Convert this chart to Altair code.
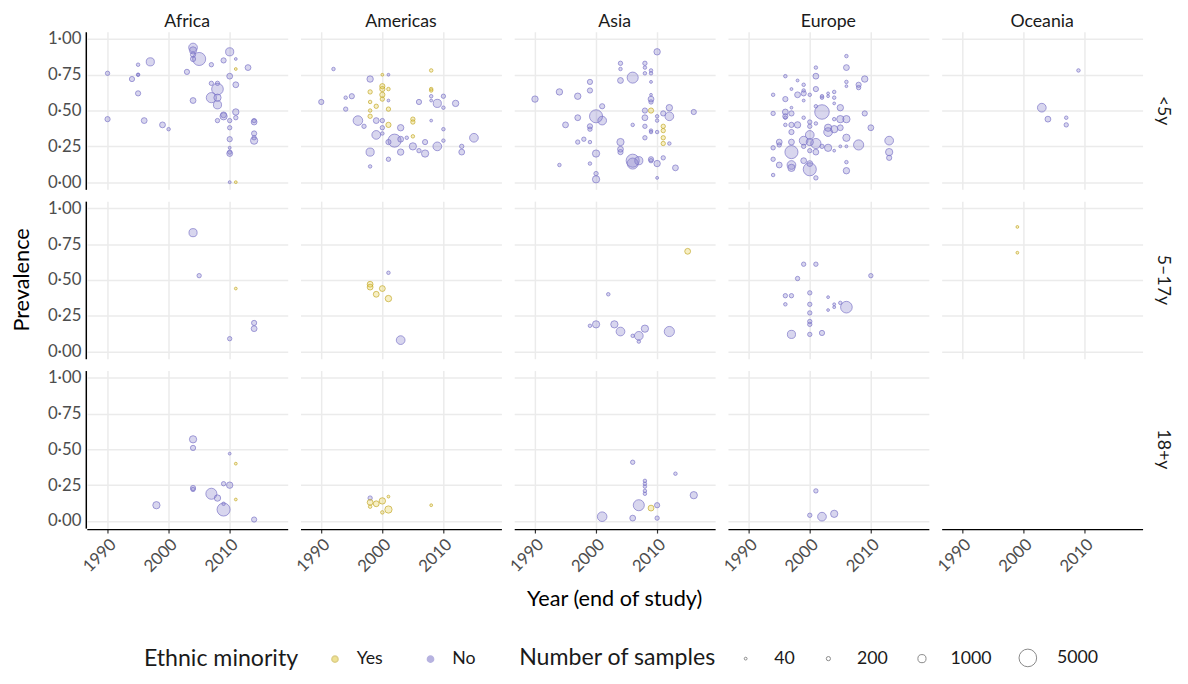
import altair as alt
import pandas as pd

REGIONS = ["Africa", "Americas", "Asia", "Europe", "Oceania"]
AGES = ["<5y", "5–17y", "18+y"]
Y, N = "Yes", "No"

# (year, prevalence, number of samples, ethnic minority)
africa_u5 = [
    (2004, 0.94, 1160, N), (2004, 0.92, 780, N), (2004, 0.89, 360, N), (2004, 0.86, 360, N),
    (2005, 0.86, 2720, N), (2010, 0.91, 1000, N), (2009, 0.85, 360, N), (2011, 0.86, 40, N),
    (2007, 0.82, 225, N), (1997, 0.84, 1000, N), (1995, 0.82, 113, N), (1990, 0.76, 225, N),
    (1995, 0.75, 113, N), (1995, 0.75, 50, N), (1994, 0.72, 360, N), (2003, 0.77, 360, N),
    (2011, 0.79, 40, Y), (2013, 0.80, 470, N), (2010, 0.74, 470, N), (2011, 0.68, 470, N),
    (2007, 0.69, 225, N), (2008, 0.69, 225, N), (2008, 0.65, 2140, N), (2007, 0.59, 1610, N),
    (2008, 0.59, 780, N), (2008, 0.54, 1000, N), (2004, 0.57, 470, N), (1995, 0.62, 360, N),
    (1990, 0.44, 360, N), (1996, 0.43, 470, N), (1999, 0.40, 470, N), (2000, 0.37, 113, N),
    (2009, 0.46, 780, N), (2009, 0.47, 470, N), (2008, 0.43, 225, N), (2010, 0.43, 225, N),
    (2011, 0.49, 585, N), (2011, 0.45, 225, N), (2014, 0.42, 470, N), (2014, 0.43, 225, N),
    (2014, 0.34, 360, N), (2014, 0.31, 225, N), (2014, 0.29, 780, N), (2010, 0.38, 225, N),
    (2010, 0.30, 360, N), (2010, 0.24, 50, N), (2010, 0.20, 470, N), (2010, 0.21, 225, N),
    (2010, 0.00, 50, N), (2011, 0.00, 40, Y),
]
americas_u5 = [
    (1992, 0.79, 113, N), (1990, 0.56, 360, N), (1994, 0.51, 225, N), (1994, 0.59, 113, N),
    (1995, 0.60, 360, N), (1998, 0.72, 585, N), (1998, 0.63, 225, Y), (1998, 0.56, 113, Y),
    (1998, 0.50, 113, Y), (1998, 0.46, 225, Y), (1999, 0.53, 225, Y), (2000, 0.75, 40, Y),
    (2000, 0.67, 360, Y), (2000, 0.65, 360, Y), (2000, 0.61, 360, Y), (2000, 0.58, 225, Y),
    (2001, 0.75, 40, N), (2001, 0.65, 113, Y), (2001, 0.57, 40, N), (2001, 0.51, 225, Y),
    (2001, 0.40, 360, Y), (1996, 0.43, 1420, N), (1997, 0.39, 225, N), (1999, 0.43, 470, N),
    (2000, 0.43, 225, N), (2000, 0.38, 225, N), (2000, 0.34, 113, N), (1999, 0.33, 1160, N),
    (2001, 0.28, 360, N), (2002, 0.29, 2720, N), (2003, 0.38, 585, N), (2003, 0.30, 470, N),
    (2004, 0.31, 113, N), (2005, 0.44, 225, Y), (2005, 0.42, 225, Y), (2005, 0.32, 113, Y),
    (2005, 0.25, 780, N), (2003, 0.21, 585, N), (2006, 0.22, 225, N), (2007, 0.28, 360, N),
    (2007, 0.20, 780, N), (1998, 0.21, 1000, N), (1998, 0.11, 113, N), (2001, 0.16, 225, N),
    (2006, 0.56, 360, N), (2008, 0.78, 113, Y), (2008, 0.65, 113, Y), (2008, 0.64, 113, Y),
    (2008, 0.60, 113, N), (2008, 0.57, 50, N), (2008, 0.43, 40, N), (2009, 0.55, 1000, N),
    (2010, 0.60, 225, N), (2010, 0.52, 113, N), (2010, 0.37, 113, N), (2010, 0.29, 113, N),
    (2009, 0.25, 1160, N), (2012, 0.55, 585, N), (2013, 0.25, 225, N), (2013, 0.21, 470, N),
    (2015, 0.31, 1160, N),
]
asia_u5 = [
    (1990, 0.58, 585, N), (1994, 0.63, 585, N), (1997, 0.60, 585, N), (1999, 0.70, 360, N),
    (1999, 0.64, 360, N), (2001, 0.53, 360, N), (2000, 0.46, 2720, N), (2001, 0.43, 1160, N),
    (1997, 0.45, 470, N), (1995, 0.40, 470, N), (1999, 0.39, 360, N), (1999, 0.37, 225, N),
    (1997, 0.28, 225, N), (1998, 0.30, 225, N), (1999, 0.28, 113, N), (2000, 0.20, 780, N),
    (1999, 0.13, 113, N), (1994, 0.12, 113, N), (2000, 0.06, 225, N), (2000, 0.02, 780, N),
    (2004, 0.83, 225, N), (2004, 0.79, 113, N), (2004, 0.71, 470, N), (2006, 0.73, 1915, N),
    (2008, 0.83, 225, N), (2008, 0.80, 113, N), (2008, 0.76, 113, N), (2009, 0.78, 113, N),
    (2009, 0.76, 113, N), (2009, 0.70, 50, N), (2010, 0.91, 585, N), (2009, 0.61, 40, N),
    (2009, 0.58, 470, N), (2009, 0.56, 225, N), (2008, 0.50, 360, N), (2009, 0.50, 360, Y),
    (2008, 0.45, 470, N), (2010, 0.46, 113, N), (2010, 0.43, 113, N), (2011, 0.48, 360, N),
    (2012, 0.52, 585, N), (2012, 0.46, 1160, N), (2016, 0.49, 360, N), (2006, 0.40, 113, N),
    (2008, 0.39, 225, N), (2009, 0.36, 113, N), (2009, 0.35, 113, N), (2010, 0.35, 113, N),
    (2011, 0.39, 225, Y), (2011, 0.36, 225, Y), (2011, 0.31, 225, Y), (2011, 0.27, 225, Y),
    (2012, 0.27, 113, N), (2008, 0.31, 225, N), (2004, 0.28, 780, N), (2004, 0.23, 470, N),
    (2004, 0.21, 360, N), (2006, 0.15, 2720, N), (2006, 0.13, 1915, N), (2007, 0.15, 1000, N),
    (2009, 0.16, 360, N), (2009, 0.15, 225, N), (2011, 0.17, 225, N), (2010, 0.13, 585, N),
    (2013, 0.10, 470, N), (2010, 0.03, 50, N),
]
europe_u5 = [
    (2006, 0.88, 113, N), (2006, 0.80, 470, N), (2006, 0.70, 113, N), (2006, 0.67, 40, N),
    (2001, 0.80, 113, N), (2001, 0.74, 470, N), (2001, 0.65, 360, N), (1996, 0.74, 113, N),
    (1998, 0.71, 50, N), (1999, 0.68, 113, N), (1997, 0.65, 50, N), (1999, 0.64, 113, N),
    (1998, 0.61, 470, N), (1999, 0.62, 360, N), (2000, 0.61, 113, N), (1999, 0.57, 50, N),
    (1994, 0.61, 113, N), (1996, 0.58, 360, N), (2002, 0.60, 113, N), (2002, 0.59, 113, N),
    (2003, 0.62, 40, N), (2003, 0.60, 40, N), (2004, 0.63, 113, N), (2004, 0.59, 113, N),
    (2009, 0.72, 585, N), (2008, 0.68, 360, N), (2008, 0.66, 225, N), (2002, 0.49, 3380, N),
    (2001, 0.53, 113, N), (2004, 0.55, 40, N), (2005, 0.52, 585, N), (1997, 0.52, 40, N),
    (1996, 0.49, 470, N), (1996, 0.46, 360, N), (1996, 0.45, 113, N), (1994, 0.48, 225, N),
    (1997, 0.48, 360, N), (1999, 0.45, 113, N), (2005, 0.44, 780, N), (2006, 0.44, 780, N),
    (2009, 0.48, 360, N), (2004, 0.44, 113, N), (1996, 0.40, 113, N), (1997, 0.40, 360, N),
    (1998, 0.40, 585, N), (2000, 0.42, 225, N), (2001, 0.41, 113, N), (2000, 0.39, 225, N),
    (1997, 0.35, 360, N), (2003, 0.38, 780, N), (2004, 0.37, 780, N), (2005, 0.38, 470, N),
    (2003, 0.35, 1160, N), (2000, 0.33, 1160, N), (2010, 0.38, 470, N), (1999, 0.29, 1160, N),
    (2000, 0.28, 780, N), (2001, 0.27, 1610, N), (1995, 0.28, 470, N), (1997, 0.28, 470, N),
    (2002, 0.25, 225, N), (2006, 0.31, 780, N), (1995, 0.26, 225, N), (1994, 0.24, 225, N),
    (1997, 0.21, 2720, N), (1999, 0.25, 225, N), (2000, 0.22, 225, N), (2001, 0.21, 470, N),
    (2003, 0.24, 780, N), (2004, 0.22, 40, N), (2005, 0.25, 50, N), (2006, 0.25, 50, N),
    (2008, 0.26, 1610, N), (2013, 0.29, 1160, N), (2013, 0.21, 780, N), (2013, 0.17, 360, N),
    (1994, 0.16, 225, N), (1995, 0.12, 470, N), (1997, 0.12, 1160, N), (1997, 0.10, 780, N),
    (1999, 0.15, 470, N), (2000, 0.09, 2720, N), (2000, 0.13, 470, N), (1994, 0.05, 113, N),
    (2006, 0.14, 113, N), (2006, 0.08, 585, N), (2001, 0.03, 225, N),
]
oceania_u5 = [
    (2009, 0.78, 113, N), (2003, 0.52, 1160, N), (2004, 0.44, 470, N), (2007, 0.45, 113, N),
    (2007, 0.40, 225, N),
]
africa_517 = [
    (2004, 0.83, 1000, N), (2005, 0.53, 225, N), (2011, 0.44, 40, Y), (2014, 0.20, 360, N),
    (2014, 0.16, 470, N), (2010, 0.09, 225, N),
]
americas_517 = [
    (2001, 0.55, 113, N), (1998, 0.47, 470, Y), (1998, 0.45, 470, Y), (2000, 0.44, 470, Y),
    (1999, 0.40, 470, Y), (2001, 0.37, 585, Y), (2003, 0.08, 1160, N),
]
asia_517 = [
    (2015, 0.70, 470, Y), (2002, 0.40, 113, N), (1999, 0.18, 113, N), (2000, 0.19, 780, N),
    (2003, 0.19, 780, N), (2004, 0.14, 1160, N), (2006, 0.11, 113, N), (2007, 0.11, 1160, N),
    (2007, 0.07, 113, N), (2008, 0.16, 780, N), (2012, 0.14, 1610, N),
]
europe_517 = [
    (1999, 0.61, 225, N), (2001, 0.61, 225, N), (1998, 0.51, 225, N), (2010, 0.53, 225, N),
    (1996, 0.39, 225, N), (1997, 0.39, 225, N), (1996, 0.33, 113, N), (2000, 0.41, 225, N),
    (2000, 0.33, 225, N), (2000, 0.27, 225, N), (2000, 0.21, 225, N), (2000, 0.19, 225, N),
    (2000, 0.12, 225, N), (2003, 0.38, 40, N), (2004, 0.33, 50, N), (2004, 0.31, 50, N),
    (2003, 0.29, 40, N), (2005, 0.34, 113, N), (2006, 0.31, 2140, N), (1997, 0.12, 1000, N),
    (2002, 0.13, 360, N),
]
oceania_517 = [
    (1999, 0.87, 40, Y), (1999, 0.69, 40, Y),
]
africa_18 = [
    (2004, 0.57, 780, N), (2004, 0.51, 360, N), (2010, 0.47, 40, N), (2011, 0.40, 40, Y),
    (2004, 0.23, 360, N), (2004, 0.22, 225, N), (2009, 0.26, 225, N), (2010, 0.25, 585, N),
    (2007, 0.19, 1915, N), (2008, 0.16, 585, N), (2011, 0.15, 40, Y), (1998, 0.11, 780, N),
    (2009, 0.12, 113, N), (2009, 0.08, 2720, N), (2014, 0.01, 360, N),
]
americas_18 = [
    (1998, 0.16, 225, N), (1998, 0.13, 470, Y), (1998, 0.10, 113, Y), (1999, 0.12, 470, Y),
    (2000, 0.14, 585, Y), (2001, 0.17, 40, Y), (2000, 0.06, 113, Y), (2001, 0.08, 780, Y),
    (2008, 0.11, 40, Y),
]
asia_18 = [
    (2006, 0.41, 225, N), (2013, 0.33, 113, N), (2008, 0.28, 113, N), (2008, 0.26, 113, N),
    (2008, 0.24, 113, N), (2008, 0.21, 113, N), (2008, 0.19, 113, N), (2016, 0.18, 780, N),
    (2007, 0.11, 1915, N), (2009, 0.09, 470, Y), (2010, 0.11, 360, N), (2001, 0.03, 1420, N),
    (2006, 0.02, 470, N), (2010, 0.02, 225, N),
]
europe_18 = [
    (2001, 0.21, 225, N), (2000, 0.04, 225, N), (2002, 0.03, 1160, N), (2004, 0.05, 780, N),
]

panels = [
    ("Africa", "<5y", africa_u5), ("Americas", "<5y", americas_u5), ("Asia", "<5y", asia_u5),
    ("Europe", "<5y", europe_u5), ("Oceania", "<5y", oceania_u5),
    ("Africa", "5–17y", africa_517), ("Americas", "5–17y", americas_517),
    ("Asia", "5–17y", asia_517), ("Europe", "5–17y", europe_517), ("Oceania", "5–17y", oceania_517),
    ("Africa", "18+y", africa_18), ("Americas", "18+y", americas_18), ("Asia", "18+y", asia_18),
    ("Europe", "18+y", europe_18),
]
rows = []
for region, age, pts in panels:
    for yr, pv, n, m in pts:
        rows.append({"region": region, "age": age, "year": yr, "prev": pv, "n": n, "minority": m})
df = pd.DataFrame(rows)

FONT = "Lato"
fill_scale = alt.Scale(domain=[Y, N], range=["#e3cb3a", "#7d76c8"])
stroke_scale = alt.Scale(domain=[Y, N], range=["#c2a82a", "#7d76c8"])

base = alt.Chart(df).mark_point(
    shape="circle", filled=False, strokeWidth=1, fillOpacity=0.3, strokeOpacity=0.7
).encode(
    x=alt.X("year:Q", title="",
            scale=alt.Scale(domain=[1986.6, 2019.5], nice=False, zero=False),
            axis=alt.Axis(values=[1990, 2000, 2010], format="d", labelAngle=-45,
                          labelAlign="right", labelBaseline="top", ticks=True,
                          tickColor="#333333", tickSize=4, tickWidth=1.2, labelPadding=3)),
    y=alt.Y("prev:Q", title="",
            scale=alt.Scale(domain=[-0.05, 1.05], nice=False, zero=False),
            axis=alt.Axis(values=[0, 0.25, 0.5, 0.75, 1.0], ticks=False, labelPadding=5,
                          labelExpr="replace(format(datum.value, '.2f'), '.', '·')")),
    fill=alt.Fill("minority:N", scale=fill_scale, title="Ethnic minority",
                  legend=alt.Legend(orient="none", legendX=58, legendY=628, direction="horizontal",
                                    titleOrient="left", symbolSize=40, columnPadding=39,
                                    labelOffset=13, titlePadding=28, symbolOpacity=0.55)),
    stroke=alt.Stroke("minority:N", scale=stroke_scale, title="Ethnic minority"),
    size=alt.Size("n:Q", title="Number of samples",
                  scale=alt.Scale(domain=[40, 5000], range=[8, 320]),
                  legend=alt.Legend(orient="none", legendX=439, legendY=626, direction="horizontal",
                                    titleOrient="left", values=[40, 200, 1000, 5000], format="d",
                                    columnPadding=25, labelOffset=20, titlePadding=20,
                                    titleLimit=400,
                                    symbolFillColor="transparent",
                                    symbolStrokeColor="#888888", symbolStrokeWidth=1,
                                    symbolOpacity=1)),
).properties(width=204, height=160)

chart = base.facet(
    column=alt.Column("region:N", sort="ascending", title="Year (end of study)",
                      header=alt.Header(labelFontSize=18, labelColor="#1a1a1a", labelFont=FONT,
                                        labelPadding=0, labelOrient="top", titleOrient="bottom",
                                        titleFont=FONT, titleFontSize=22, titleFontWeight="normal",
                                        titleColor="#000000", titlePadding=4)),
    row=alt.Row("age:N", sort="descending", title="Prevalence",
                header=alt.Header(labelOrient="right", labelAngle=90, labelFontSize=18,
                                  labelColor="#1a1a1a", labelFont=FONT, labelPadding=2,
                                  labelAlign="center", labelBaseline="middle",
                                  titleOrient="left", titleFont=FONT, titleFontSize=22,
                                  titleFontWeight="normal", titleColor="#000000",
                                  titlePadding=3)),
    spacing={"row": 10, "column": 11},
).configure_view(stroke="transparent").configure_axis(
    grid=True, gridColor="#ebebeb", gridWidth=1.5,
    domainColor="#000000", domainWidth=1.5,
    labelFont=FONT, labelFontSize=17, labelColor="#4d4d4d",
).configure_legend(
    titleFont=FONT, titleFontSize=23.5, titleFontWeight="normal", titleColor="#1a1a1a",
    labelFont=FONT, labelFontSize=18, labelColor="#1a1a1a",
).properties(padding={"left": 2, "top": 0, "right": 8, "bottom": 0})

chart.save("out.html", embed_options={"renderer": "svg", "actions": False})
